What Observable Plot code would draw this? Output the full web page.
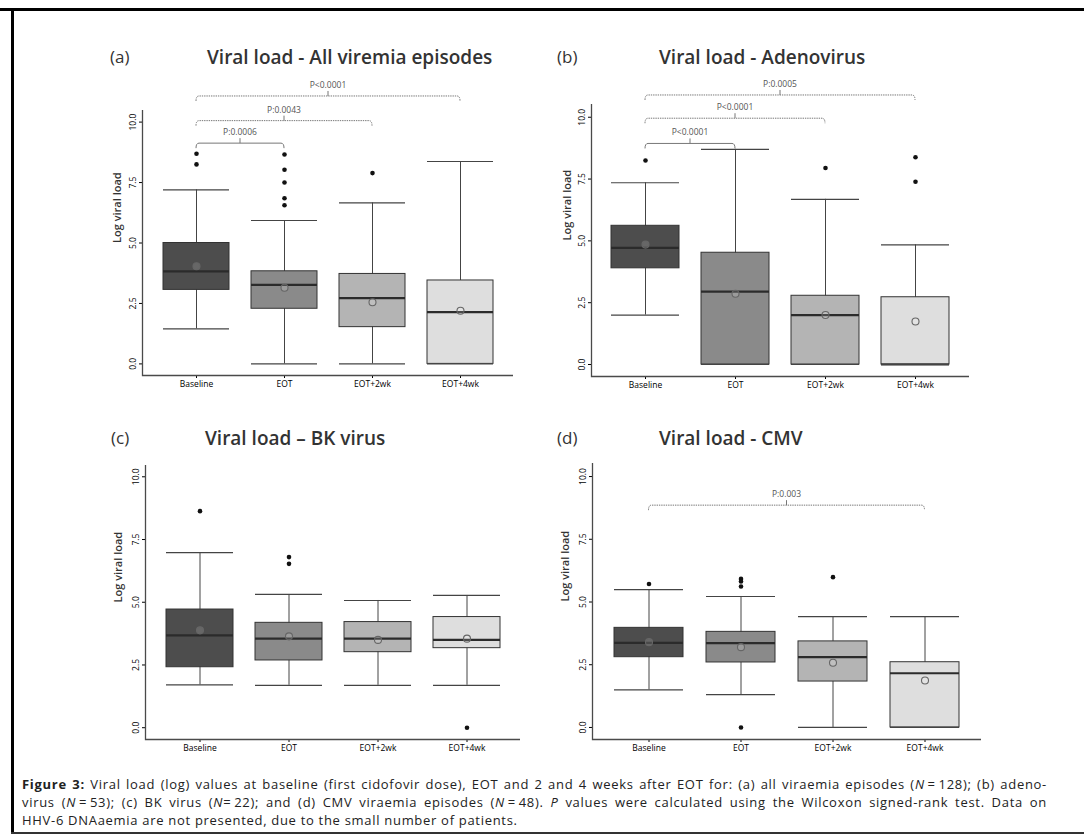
<!DOCTYPE html>
<html><head><meta charset="utf-8">
<script src="https://cdn.jsdelivr.net/npm/d3@7"></script>
<script src="https://cdn.jsdelivr.net/npm/@observablehq/plot@0.6"></script>
<style>
body{margin:0;background:#fff;}
#fig{position:relative;width:1084px;height:839px;overflow:hidden;font-family:"Open Sans",sans-serif;background:#fff;}
.panel{position:absolute;}
.tag{position:absolute;font-size:17px;color:#333;line-height:22px;white-space:nowrap;}
.title{position:absolute;font-size:19px;font-weight:600;color:#333;line-height:22px;white-space:nowrap;}
.cap{position:absolute;left:22px;width:1025px;font-family:"Open Sans",sans-serif;font-size:13px;letter-spacing:0.7px;color:#222;line-height:18px;white-space:nowrap;}
.just{text-align:justify;text-align-last:justify;white-space:normal;}
.rule{position:absolute;background:#000;}
</style></head>
<body>
<div id="fig">
  <div class="rule" style="left:0;top:8px;width:1084px;height:3px;"></div>
  <div class="rule" style="left:11px;top:8px;width:2.5px;height:826px;"></div>
  <div class="rule" style="left:11px;top:832px;width:1073px;height:1.5px;background:#333;"></div>
  <div class="tag" style="left:110px;top:46px;">(a)</div>
  <div class="title" style="left:207px;top:46px;">Viral load - All viremia episodes</div>
  <div class="tag" style="left:557px;top:46px;">(b)</div>
  <div class="title" style="left:659px;top:46px;">Viral load - Adenovirus</div>
  <div class="tag" style="left:111px;top:427px;">(c)</div>
  <div class="title" style="left:205px;top:427px;">Viral load – BK virus</div>
  <div class="tag" style="left:557px;top:427px;">(d)</div>
  <div class="title" style="left:659px;top:427px;">Viral load - CMV</div>
  <div id="pa" class="panel" style="left:100px;top:70px;"></div>
  <div id="pb" class="panel" style="left:550px;top:70px;"></div>
  <div id="pc" class="panel" style="left:100px;top:440px;"></div>
  <div id="pd" class="panel" style="left:550px;top:440px;"></div>
  <div class="cap just" style="top:775px;"><b>Figure 3:</b> Viral load (log) values at baseline (first cidofovir dose), EOT and 2 and 4 weeks after EOT for: (a) all viraemia episodes (<i>N</i>&#8201;=&#8201;128); (b) adeno-</div>
  <div class="cap just" style="top:793px;">virus (<i>N</i>&#8201;=&#8201;53); (c) BK virus (<i>N</i>=&#8201;22); and (d) CMV viraemia episodes (<i>N</i>&#8201;=&#8201;48). <i>P</i> values were calculated using the Wilcoxon signed-rank test. Data on</div>
  <div class="cap" style="top:811px;">HHV-6 DNAaemia are not presented, due to the small number of patients.</div>
</div>
<script>
const categories = ["Baseline", "EOT", "EOT+2wk", "EOT+4wk"];
const boxFills = ["#4d4d4d", "#8a8a8a", "#b4b4b4", "#dedede"];
const yTicks = [0, 2.5, 5, 7.5, 10];
const yLabel = "Log viral load";

// (a) All viremia episodes
const aLow = [1.45, 0, 0, 0];
const aQ1 = [3.06, 2.28, 1.52, 0];
const aMedian = [3.83, 3.27, 2.72, 2.14];
const aQ3 = [5.0, 3.83, 3.72, 3.45];
const aHigh = [7.2, 5.93, 6.66, 8.37];
const aMean = [4.04, 3.15, 2.55, 2.2];
const aOutlierGroup = ["Baseline", "Baseline", "EOT", "EOT", "EOT", "EOT", "EOT", "EOT+2wk"];
const aOutlierValue = [8.69, 8.25, 8.66, 8.03, 7.5, 6.85, 6.56, 7.89];
const aBracketFrom = ["Baseline", "Baseline", "Baseline"];
const aBracketTo = ["EOT", "EOT+2wk", "EOT+4wk"];
const aBracketLevel = [9.11, 10.04, 11.06];
const aBracketLabel = ["P:0.0006", "P:0.0043", "P<0.0001"];

// (b) Adenovirus
const bLow = [2.0, 0, 0, 0];
const bQ1 = [3.89, 0, 0, 0];
const bMedian = [4.72, 2.95, 2.0, 0];
const bQ3 = [5.61, 4.52, 2.78, 2.72];
const bHigh = [7.35, 8.7, 6.68, 4.84];
const bMean = [4.85, 2.86, 2.0, 1.74];
const bOutlierGroup = ["Baseline", "EOT+2wk", "EOT+4wk", "EOT+4wk"];
const bOutlierValue = [8.25, 7.95, 8.38, 7.39];
const bBracketFrom = ["Baseline", "Baseline", "Baseline"];
const bBracketTo = ["EOT", "EOT+2wk", "EOT+4wk"];
const bBracketLevel = [8.92, 9.94, 10.88];
const bBracketLabel = ["P<0.0001", "P<0.0001", "P:0.0005"];

// (c) BK virus
const cLow = [1.71, 1.69, 1.69, 1.69];
const cQ1 = [2.41, 2.68, 3.01, 3.17];
const cMedian = [3.68, 3.55, 3.55, 3.5];
const cQ3 = [4.71, 4.18, 4.21, 4.41];
const cHigh = [6.98, 5.31, 5.07, 5.27];
const cMean = [3.88, 3.64, 3.5, 3.55];
const cOutlierGroup = ["Baseline", "EOT", "EOT", "EOT+4wk"];
const cOutlierValue = [8.63, 6.8, 6.53, 0];
const cBracketFrom = [];
const cBracketTo = [];
const cBracketLevel = [];
const cBracketLabel = [];

// (d) CMV
const dLow = [1.5, 1.31, 0, 0];
const dQ1 = [2.8, 2.59, 1.83, 0];
const dMedian = [3.37, 3.36, 2.8, 2.16];
const dQ3 = [3.97, 3.81, 3.43, 2.6];
const dHigh = [5.49, 5.22, 4.42, 4.42];
const dMean = [3.4, 3.2, 2.58, 1.87];
const dOutlierGroup = ["Baseline", "EOT", "EOT", "EOT", "EOT", "EOT+2wk"];
const dOutlierValue = [5.72, 5.92, 5.82, 5.62, 0, 5.99];
const dBracketFrom = ["Baseline"];
const dBracketTo = ["EOT+4wk"];
const dBracketLevel = [8.84];
const dBracketLabel = ["P:0.003"];

// Axis lines (left and bottom) drawn from the plot's own scale ranges
function axisLines() {
  return (index, scales) => {
    const xr = scales.x.range(), yr = scales.y.range();
    const x0 = Math.round(Math.min(...xr)) + 0.5, x1 = Math.max(...xr);
    const yTop = Math.min(...yr), y0 = Math.round(Math.max(...yr)) + 0.5;
    const g = d3.create("svg:g");
    g.append("path")
      .attr("d", `M${x0},${yTop}V${y0}H${x1}`)
      .attr("fill", "none").attr("stroke", "#4a4a4a").attr("stroke-width", 1.3);
    return g.node();
  };
}

function bracketMark(brackets) {
  return (index, scales) => {
    const x = scales.x, y = scales.y;
    let bw = 0;
    if (x && typeof x.bandwidth === "function") bw = x.bandwidth();
    else if (scales.scales && scales.scales.x && scales.scales.x.bandwidth) bw = scales.scales.x.bandwidth;
    const g = d3.create("svg:g");
    brackets.forEach((b, i) => {
      const x1 = x(b.from) + bw / 2, x2 = x(b.to) + bw / 2, yy = y(b.level), xm = (x1 + x2) / 2;
      const solid = brackets.length > 1 && i === 0;
      g.append("path")
        .attr("d", `M${x1},${yy + 5}Q${x1},${yy} ${x1 + 3},${yy}H${x2 - 3}Q${x2},${yy} ${x2},${yy + 5}`)
        .attr("fill", "none").attr("stroke", "#777").attr("stroke-width", 1)
        .attr("stroke-dasharray", solid ? null : "1.4,0.9");
      g.append("path").attr("d", `M${xm},${yy}V${yy - 5}`)
        .attr("stroke", "#777").attr("stroke-width", 1);
      g.append("text").attr("x", xm).attr("y", yy - 8)
        .attr("text-anchor", "middle").attr("font-size", 8.5).attr("fill", "#555")
        .text(b.label);
    });
    return g.node();
  };
}

function panel(el, s, dims) {
  const stats = categories.map((c, i) => ({cat: c, low: s.low[i], q1: s.q1[i], median: s.median[i], q3: s.q3[i], high: s.high[i], mean: s.mean[i]}));
  const outliers = s.outG.map((g, i) => ({cat: g, v: s.outV[i]}));
  const brackets = s.brFrom.map((f, i) => ({from: f, to: s.brTo[i], level: s.brLevel[i], label: s.brLabel[i]}));
  const chart = Plot.plot({
    width: dims.width, height: dims.height,
    marginLeft: dims.ml, marginRight: dims.mr, marginTop: dims.mt, marginBottom: dims.mb,
    style: {fontFamily: "Open Sans, sans-serif", fontSize: "8.5px", background: "transparent", overflow: "visible"},
    x: {type: "band", domain: categories, paddingInner: 0.25, paddingOuter: 0.225, label: null, tickSize: 3, tickPadding: 2, color: "#8a8a8a"},
    y: {domain: dims.yDomain, ticks: yTicks, tickFormat: d => d.toFixed(1), tickRotate: -90, tickSize: 3, tickPadding: 4, label: null, color: "#9a9a9a"},
    color: {domain: categories, range: boxFills},
    marks: [
      Plot.text([yLabel], {frameAnchor: "left", rotate: -90, dx: dims.labelDx, fontSize: 11, fill: "#333", fontWeight: 600}),
      Plot.ruleX(stats, {x: "cat", y1: "low", y2: "high", stroke: "#444", strokeWidth: 1}),
      Plot.barY(stats, {x: "cat", y1: "q1", y2: "q3", fill: "cat", stroke: "#333", strokeWidth: 1}),
      Plot.tickY(stats, {x: "cat", y: "median", stroke: "#2b2b2b", strokeWidth: 2.2}),
      Plot.tickY(stats, {x: "cat", y: "low", stroke: "#444", strokeWidth: 1.2}),
      Plot.tickY(stats, {x: "cat", y: "high", stroke: "#444", strokeWidth: 1.2}),
      Plot.dot(outliers, {x: "cat", y: "v", r: 2.3, fill: "#111", stroke: "none"}),
      Plot.dot(stats, {x: "cat", y: "mean", r: 3.5, stroke: "#666", strokeWidth: 1.1, fill: "white", fillOpacity: 0.15}),
      bracketMark(brackets),
      axisLines()
    ]
  });
  document.getElementById(el).appendChild(chart);
}

panel("pa", {low: aLow, q1: aQ1, median: aMedian, q3: aQ3, high: aHigh, mean: aMean, outG: aOutlierGroup, outV: aOutlierValue,
  brFrom: aBracketFrom, brTo: aBracketTo, brLevel: aBracketLevel, brLabel: aBracketLabel},
  {width: 430, height: 330, ml: 42, mr: 17, mt: 40, mb: 25, yDomain: [-0.48, 10.48], labelDx: -25});
panel("pb", {low: bLow, q1: bQ1, median: bMedian, q3: bQ3, high: bHigh, mean: bMean, outG: bOutlierGroup, outV: bOutlierValue,
  brFrom: bBracketFrom, brTo: bBracketTo, brLevel: bBracketLevel, brLabel: bBracketLabel},
  {width: 430, height: 330, ml: 41, mr: 11, mt: 34, mb: 24, yDomain: [-0.485, 10.515], labelDx: -24});
panel("pc", {low: cLow, q1: cQ1, median: cMedian, q3: cQ3, high: cHigh, mean: cMean, outG: cOutlierGroup, outV: cOutlierValue,
  brFrom: cBracketFrom, brTo: cBracketTo, brLevel: cBracketLevel, brLabel: cBracketLabel},
  {width: 430, height: 320, ml: 45, mr: 10, mt: 25, mb: 21, yDomain: [-0.47, 10.45], labelDx: -27});
panel("pd", {low: dLow, q1: dQ1, median: dMedian, q3: dQ3, high: dHigh, mean: dMean, outG: dOutlierGroup, outV: dOutlierValue,
  brFrom: dBracketFrom, brTo: dBracketTo, brLevel: dBracketLevel, brLabel: dBracketLabel},
  {width: 440, height: 320, ml: 42, mr: 9, mt: 23, mb: 21, yDomain: [-0.48, 10.52], labelDx: -27});
</script>
</body></html>
